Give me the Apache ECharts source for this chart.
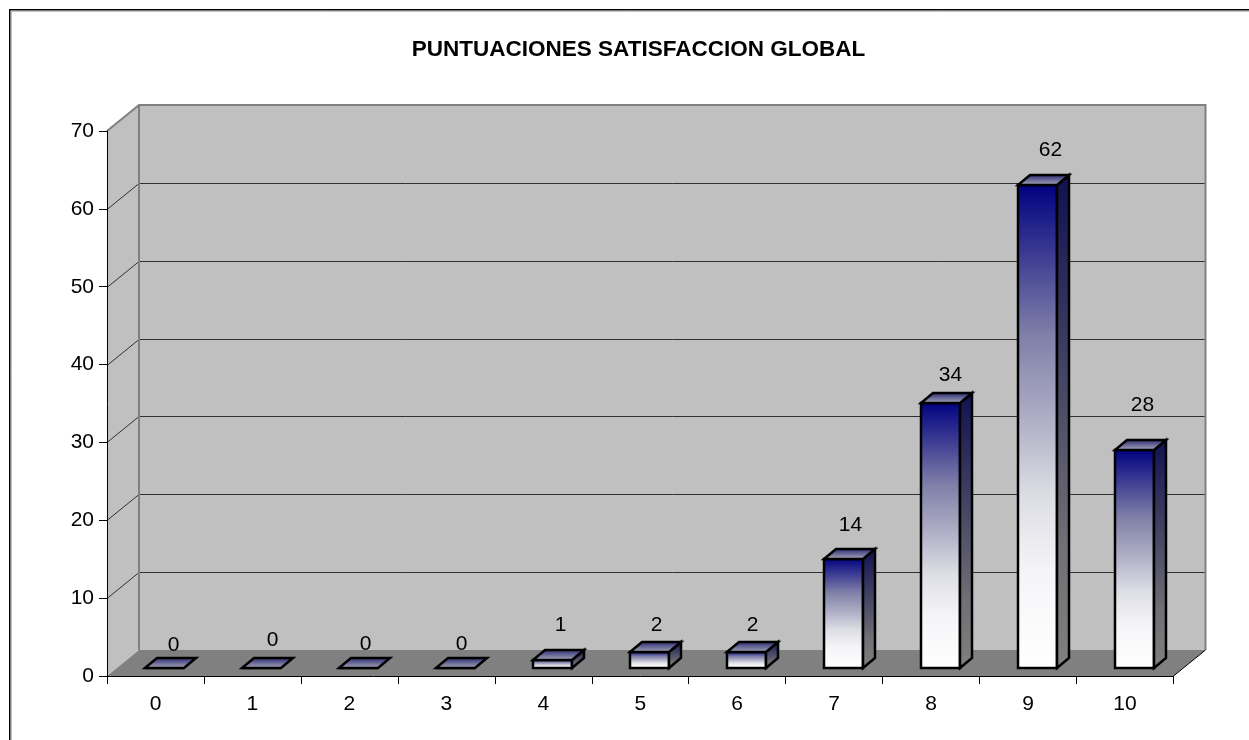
<!DOCTYPE html>
<html><head><meta charset="utf-8">
<style>html,body{margin:0;padding:0;background:#fff}#c{width:1249px;height:740px}</style>
<script src="https://cdn.jsdelivr.net/npm/echarts@6/dist/echarts.min.js"></script>
</head><body><div id="c"></div>
<script>
const categories = ['0','1','2','3','4','5','6','7','8','9','10'];
const values = [0,0,0,0,1,2,2,14,34,62,28];
const yTicks = [0,10,20,30,40,50,60,70];
const titleText = 'PUNTUACIONES SATISFACCION GLOBAL';
// hand-placed data-label nudges from the bar top, as in the source chart
const labelDx = [9,11,7,6,8,7,6,7,10,13,8];
const labelDy = [-23,-28,-24,-24,-35,-27,-27,-34,-28,-35,-45];

const DX = 32, DY = -26;          // chart depth
const BAR_W = 39, BAR_DX = 12, BAR_DY = -10, BAR_SHIFT = 9.5, BAR_LIFT = -8;

const chart = echarts.init(document.getElementById('c'), null, {renderer:'canvas'});

function wallItem(params, api) {
  const cs = params.coordSys;
  const x0 = cs.x, x1 = cs.x + cs.width;
  const y0 = api.coord([0, 0])[1], yT = api.coord([0, 70])[1];
  const children = [
    {type:'polygon', shape:{points:[[x0,y0],[x0+DX,y0+DY],[x0+DX,yT+DY],[x0,yT]]}, style:{fill:'#c0c0c0', stroke:null}},
    {type:'rect', shape:{x:x0+DX,y:yT+DY,width:x1-x0,height:y0-yT}, style:{fill:'#c0c0c0', stroke:null}},
    {type:'polygon', shape:{points:[[x0,y0],[x1,y0],[x1+DX,y0+DY],[x0+DX,y0+DY]]}, style:{fill:'#808080', stroke:null}},
  ];
  yTicks.forEach(t => {
    if (t === 0 || t === 70) return;
    const y = Math.round(api.coord([0, t])[1]) + 0.5;
    children.push({type:'polyline', shape:{points:[[x0,y],[x0+DX,y+DY],[x1+DX,y+DY]]}, style:{fill:null, stroke:'#303030', lineWidth:1}});
  });
  children.push({type:'polyline', shape:{points:[[x0,yT],[x0+DX,yT+DY],[x1+DX,yT+DY],[x1+DX,y0+DY]]}, style:{fill:null, stroke:'#808080', lineWidth:2}});
  children.push({type:'line', shape:{x1:x0+DX,y1:yT+DY,x2:x0+DX,y2:y0+DY}, style:{stroke:'#808080', lineWidth:2}});
  children.push({type:'line', shape:{x1:x1,y1:y0,x2:x1+DX,y2:y0+DY}, style:{stroke:'#000', lineWidth:1}});
  return {type:'group', children};
}

function barItem(params, api) {
  const i = api.value(0), v = api.value(1);
  const c = api.coord([i, v]);
  const base = api.coord([i, 0]);
  const xL = Math.round(c[0] - BAR_W/2 + BAR_SHIFT);
  const xR = xL + BAR_W;
  const yB = Math.round(base[1] + BAR_LIFT);
  const yT = Math.round(c[1] + BAR_LIFT);
  const grad = (stops) => new echarts.graphic.LinearGradient(0,0,0,1,stops);
  const h = yB - yT;
  const line = {stroke:'#000', lineWidth:2.5, lineJoin:'miter'};
  const children = [];
  if (h > 0) {
    children.push({type:'rect', shape:{x:xL,y:yT,width:BAR_W,height:h},
      style:Object.assign({fill:grad([{offset:0,color:'#000080'},{offset:.31,color:'#7f7fa8'},{offset:.48,color:'#adadc5'},{offset:.64,color:'#dcdce4'},{offset:.8,color:'#f5f5f8'},{offset:1,color:'#ffffff'}])},line)});
    children.push({type:'polygon', shape:{points:[[xR,yB],[xR+BAR_DX,yB+BAR_DY],[xR+BAR_DX,yT+BAR_DY],[xR,yT]]},
      style:Object.assign({fill:grad([{offset:0,color:'#101050'},{offset:.75,color:'#707075'},{offset:1,color:'#808080'}])},line)});
  } else {
    children.push({type:'line', shape:{x1:xL,y1:yB,x2:xR,y2:yB}, style:line});
  }
  children.push({type:'polygon', shape:{points:[[xL,yT],[xR,yT],[xR+BAR_DX,yT+BAR_DY],[xL+BAR_DX,yT+BAR_DY]]},
    style:Object.assign({fill:grad([{offset:0,color:'#20206e'},{offset:1,color:'#b4b4c0'}])},line)});
  children.push({type:'text', style:{text:String(v), x:xL+BAR_W/2+labelDx[i], y:yT+labelDy[i],
    align:'center', verticalAlign:'middle', fill:'#000', font:'21px "Liberation Sans"'}});
  return {type:'group', children};
}

chart.setOption({
  animation:false,
  backgroundColor:'#fff',
  title:{text:titleText, left:633.5, top:33, textAlign:'center',
    textStyle:{fontFamily:'Liberation Sans', fontWeight:'bold', fontSize:22.5, color:'#000'}},
  graphic:[
    {type:'polyline', shape:{points:[[11.5,740],[11.5,11.5],[1249,11.5]]}, style:{fill:null, stroke:'#c0c0c0', lineWidth:1}, z:10},
    {type:'polyline', shape:{points:[[9.75,740],[9.75,9.75],[1249,9.75]]}, style:{fill:null, stroke:'#000', lineWidth:1.5}, z:11}
  ],
  grid:{left:107, right:75.5, top:131, bottom:64},
  xAxis:{type:'category', data:categories, boundaryGap:true,
    axisLine:{onZero:false, lineStyle:{color:'#000', width:1}},
    axisTick:{show:true, alignWithLabel:false, length:8, lineStyle:{color:'#000'}},
    axisLabel:{color:'#000', fontFamily:'Liberation Sans', fontSize:21, margin:18},
    splitLine:{show:false}, z:5},
  yAxis:{type:'value', min:0, max:70, interval:10,
    axisLine:{show:true, lineStyle:{color:'#000', width:1}},
    axisTick:{show:true, length:8, lineStyle:{color:'#000'}},
    axisLabel:{color:'#000', fontFamily:'Liberation Sans', fontSize:21, margin:13, padding:[5,0,0,0]},
    splitLine:{show:false}, z:5},
  series:[
    {type:'custom', renderItem:wallItem, data:[0], silent:true, clip:false, z:1, encode:{x:[],y:[]}},
    {type:'custom', renderItem:barItem, data:categories.map((c,i)=>[i,values[i]]), encode:{x:0,y:1}, clip:false, z:2}
  ]
});
</script></body></html>
